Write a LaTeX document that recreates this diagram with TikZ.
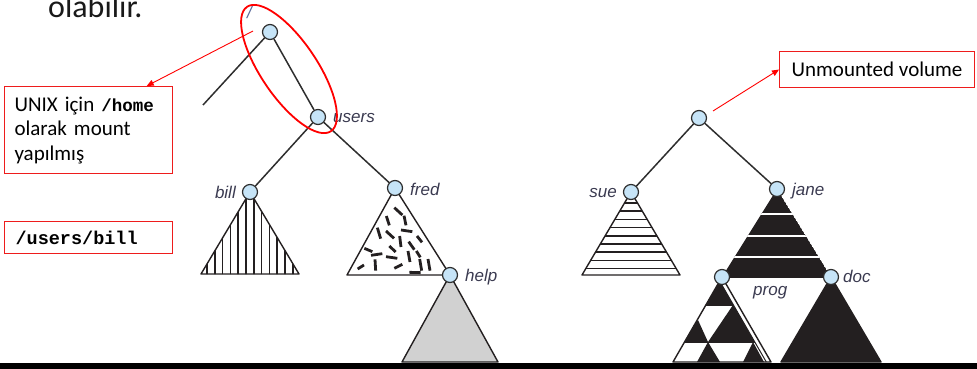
\documentclass[tikz,border=0pt]{standalone}
\usepackage{fontspec}
\setmainfont{Carlito}
\newfontfamily\codefont{Liberation Mono}
\newfontfamily\labfont{Liberation Sans}
\usetikzlibrary{arrows.meta,calc,backgrounds}
\definecolor{nodeblue}{HTML}{C6E4F7}
\definecolor{edgegray}{HTML}{2E2E2E}
\definecolor{labcol}{HTML}{3A3A50}
\definecolor{slashcol}{HTML}{5A6A9A}
\definecolor{boxred}{HTML}{EE1C1C}
\definecolor{helpgray}{HTML}{D1D1D1}
\definecolor{solidblk}{HTML}{231F20}
\tikzset{
  dirnode/.style={circle, draw=edgegray, fill=nodeblue, line width=1.2pt, minimum size=15pt, inner sep=0pt},
  treeedge/.style={draw=edgegray, line width=1.5pt},
  lab/.style={font=\labfont\itshape\fontsize{17}{19}\selectfont, text=labcol, inner sep=0pt},
  redbox/.style={draw=boxred, line width=1.1pt, inner sep=0pt, anchor=north west},
  redarrow/.style={draw=red, line width=0.9pt, -{Triangle[length=7pt,width=6pt]}},
  tri/.style={draw=solidblk, line width=1.4pt, line join=round},
  dashmark/.style={draw=solidblk, line width=2.8pt},
  stripe/.style={draw=solidblk, line width=1.5pt},
}
\begin{document}
\begin{tikzpicture}[x=1pt,y=-1pt]
\useasboundingbox (0,0) rectangle (977,369);
\clip (0,0) rectangle (977,369);
% heading fragment
\node[anchor=base west, inner sep=0pt, font=\fontsize{32}{38}\selectfont, text=black!90] (heading) at (48,18) {olabilir.};
% left tree nodes
\node[dirnode] (root) at (270,32) {};
\node[dirnode] (users) at (318,117) {};
\node[dirnode] (bill) at (250,192) {};
\node[dirnode] (fred) at (395,188) {};
\node[dirnode] (help) at (450,275) {};
\coordinate (stub) at (203,105);
% right tree nodes
\node[dirnode] (vol) at (699,118) {};
\node[dirnode] (sue) at (631,192) {};
\node[dirnode] (jane) at (777,189) {};
\node[dirnode] (prog) at (722,277) {};
\node[dirnode] (doc) at (831,277) {};
% labels
\node[lab, anchor=base west, text=slashcol] (lroot) at (247,19) {/};
\node[lab, anchor=base west] (lusers) at (333,122) {users};
\node[lab, anchor=base east] (lbill) at (236,198) {bill};
\node[lab, anchor=base west] (lfred) at (410,195) {fred};
\node[lab, anchor=base west] (lhelp) at (465,281) {help};
\node[lab, anchor=base east] (lsue) at (617,197) {sue};
\node[lab, anchor=base west] (ljane) at (792,195) {jane};
\node[lab, anchor=base west] (lprog) at (753,295) {prog};
\node[lab, anchor=base west] (ldoc) at (843,282) {doc};
% edges
\draw[treeedge] (root) -- (users);
\draw[treeedge] (root) -- (stub);
\draw[treeedge] (users) -- (bill);
\draw[treeedge] (users) -- (fred);
\draw[treeedge] (vol) -- (sue);
\draw[treeedge] (vol) -- (jane);
% subtrees
\begin{scope}[on background layer]
  % bill: vertical stripes
  \begin{scope}
    \clip (bill.center) -- (201,274) -- (299,274) -- cycle;
    \foreach \sx in {207,214.8,...,298} \draw[stripe] (\sx,185) -- (\sx,280);
  \end{scope}
  \draw[tri] (bill.center) -- (201,274) -- (299,274) -- cycle;
  % fred: random dashes
  \draw[tri] (fred.center) -- (347,275) -- (help.center) -- cycle;
  \begin{scope}[shift={(340,185)}, x=0.3333pt, y=-0.3333pt]
    \foreach \ax/\ay/\bx/\by in {163/68/187/90, 139/93/148/121, 192/92/198/121,
      112/128/122/161, 138/138/162/160, 183/135/217/140, 179/153/183/186,
      206/170/223/194, 231/153/246/172, 73/190/97/200, 93/211/127/206,
      148/183/167/201, 204/198/210/231, 138/215/172/220, 105/223/107/257,
      239/222/245/257, 264/222/270/257, 53/252/72/240, 163/250/187/238,
      208/262/242/263, 229/198/241/217}
      \draw[dashmark] (\ax,\ay) -- (\bx,\by);
  \end{scope}
  % help: grey
  \draw[tri, fill=helpgray] (help.center) -- (402,362) -- (498,362) -- cycle;
  % sue: horizontal stripes
  \begin{scope}
    \clip (sue.center) -- (582,275) -- (680,275) -- cycle;
    \foreach \sy in {203,211.2,...,270} \draw[stripe] (575,\sy) -- (690,\sy);
  \end{scope}
  \draw[tri] (sue.center) -- (582,275) -- (680,275) -- cycle;
  % jane: black with white bands
  \begin{scope}
    \clip (jane.center) -- (prog.center) -- (doc.center) -- cycle;
    \fill[solidblk] (jane.center) -- (prog.center) -- (doc.center) -- cycle;
    \foreach \sy in {214,236,257} \draw[white, line width=2.8pt] (700,\sy) -- (850,\sy);
  \end{scope}
  \draw[tri] (prog.center) -- (doc.center);
  % prog: checkered
  \fill[white] (prog.center) -- (673,362) -- (771,362) -- cycle;
  \begin{scope}
    \clip (719.6,281) -- (673,362) -- (766.3,362) -- cycle;
    \fill[solidblk] (660,270) rectangle (780,305);
    \fill[solidblk] (733,305) -- (708,342) -- (758,342) -- cycle;
    \fill[solidblk] (698,320) -- (680,342) -- (708,342) -- cycle;
    \fill[solidblk] (708,342) -- (697,362) -- (720,362) -- cycle;
    \fill[solidblk] (753,342) -- (743,362) -- (764,362) -- cycle;
    \draw[solidblk, line width=1pt] (660,305) -- (780,305) (660,342) -- (780,342);
  \end{scope}
  \draw[solidblk, line width=1pt] (719.6,281) -- (766.3,362);
  \draw[tri] (prog.center) -- (673,362) -- (771,362) -- cycle;
  % doc: solid black
  \draw[tri, fill=solidblk] (doc.center) -- (781,362) -- (881,362) -- cycle;
\end{scope}
% mounted-part marker
\draw[red, line width=1.8pt, rotate around={-56:(289,69)}] (289,69) ellipse (75 and 28);
% callout boxes
\node[redbox, minimum width=168pt, minimum height=87pt, text width=148pt, align=left,
      font=\fontsize{21}{24.5}\selectfont] (unixbox) at (4,86)
  {UNIX için {\codefont\bfseries\fontsize{17.5}{24.5}\selectfont /home}\\olarak mount\\yapılmış};
\node[redbox, minimum width=168pt, minimum height=32pt, text width=146pt, align=left,
      font=\codefont\bfseries\fontsize{18.5}{22}\selectfont] (billbox) at (4,221) {/users/bill};
\node[redbox, minimum width=195pt, minimum height=36pt,
      font=\fontsize{21}{25}\selectfont] (unmbox) at (779,51) {Unmounted volume};
% arrows
\coordinate (a1) at (253,31);
\draw[redarrow] (a1) -- ($(unixbox.north west)!0.844!(unixbox.north east)$);
\coordinate (a2) at (713,111);
\draw[redarrow] (a2) -- (unmbox.west);
% bottom rule
\fill[black] (0,363) rectangle (977,369);
\end{tikzpicture}
\end{document}
